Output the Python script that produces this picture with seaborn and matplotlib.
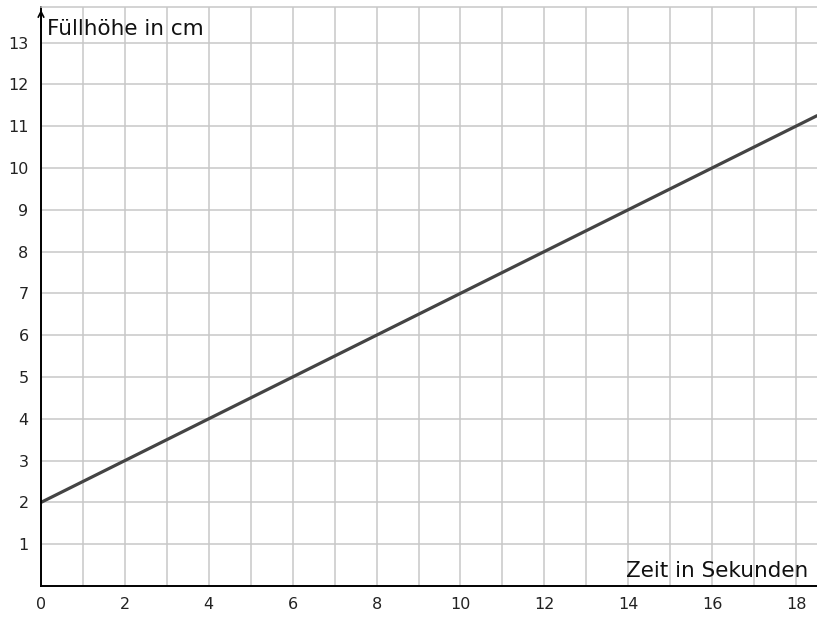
import numpy as np
import pandas as pd
import matplotlib
matplotlib.use("Agg")
import matplotlib.pyplot as plt
import seaborn as sns

# Füllhöhe über der Zeit
zeit = [0, 18.5]
hoehe = [2, 11.25]
x_ticks = [0, 2, 4, 6, 8, 10, 12, 14, 16, 18]
y_ticks = [1, 2, 3, 4, 5, 6, 7, 8, 9, 10, 11, 12, 13]

sns.set_style("white")
plt.rcParams['font.family'] = ['DejaVu Sans']

fig = plt.figure(figsize=(8.17, 6.18), dpi=100)
ax = fig.add_axes([41 / 817, 32 / 618, 776 / 817, 579 / 618])

df = pd.DataFrame({'zeit': zeit, 'hoehe': hoehe})
sns.lineplot(data=df, x='zeit', y='hoehe', ax=ax, color='#444444', linewidth=2.3)

ax.set_xlim(0, 18.5)
ax.set_ylim(0, 13.85)
ax.set_xticks(np.arange(0, 19, 1), minor=True)
ax.set_xticks(x_ticks)
ax.set_yticks(y_ticks)
ax.grid(True, which='both', color='#c8c8c8', linewidth=1.1)
ax.set_axisbelow(True)
ax.tick_params(length=0, labelsize=11.5, colors='#222222', pad=8)
ax.tick_params(axis='y', pad=9)
ax.set_xlabel('')
ax.set_ylabel('')

for s in ['left', 'bottom']:
    ax.spines[s].set_color('black')
    ax.spines[s].set_linewidth(1.4)
ax.spines['right'].set_visible(False)
ax.spines['top'].set_color('#c8c8c8')
ax.spines['top'].set_linewidth(1.1)

# Pfeil an der y-Achse
ax.annotate('', xy=(0, 13.85), xytext=(0, 13.3),
            arrowprops=dict(arrowstyle='->', color='black', lw=1.2),
            annotation_clip=False)

ax.text(0.15, 13.33, 'Füllhöhe in cm', fontsize=15.5, va='center', ha='left', color='#111111')
ax.text(18.3, 0.35, 'Zeit in Sekunden', fontsize=15.5, va='center', ha='right', color='#111111')

fig.savefig('out.png', dpi=100)
